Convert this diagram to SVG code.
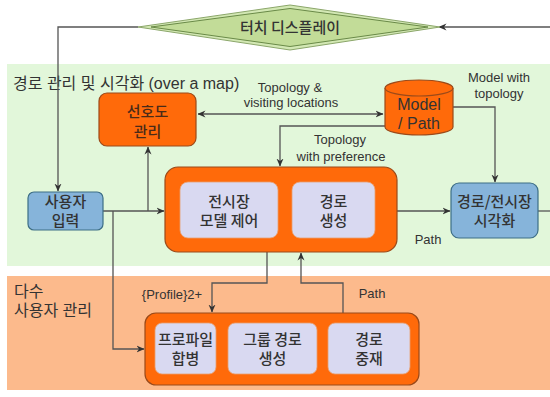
<svg xmlns="http://www.w3.org/2000/svg" width="550" height="397" viewBox="0 0 550 397">
<defs>
<marker id="ah" viewBox="0 0 8 8" refX="7.5" refY="4" markerWidth="8" markerHeight="8" markerUnits="userSpaceOnUse" orient="auto-start-reverse">
<path d="M0,0.5 L8,4 L0,7.5 L2.5,4 z" fill="#333"/>
</marker>
</defs>
<style>
.kr{font-family:"Noto Sans CJK KR","Liberation Sans",sans-serif;font-size:15px;font-weight:500;fill:#333;text-anchor:middle}
.okr{font-family:"Noto Sans CJK KR","Liberation Sans",sans-serif;font-size:15px;font-weight:500;fill:#4a2b18;text-anchor:middle}
.en{font-family:"Liberation Sans","Noto Sans CJK KR",sans-serif;font-size:13px;fill:#333;text-anchor:middle}
.sec{font-family:"Liberation Sans","Noto Sans CJK KR",sans-serif;font-size:16px;fill:#333}
.orange{fill:#ff6a0a;stroke:#9a4a1a;stroke-width:1.2}
.lav{fill:#d9d9f1;stroke:#e9a070;stroke-width:0.8}
.blue{fill:#86b4da;stroke:#3d6e86;stroke-width:1.2}
.ln{fill:none;stroke:#555;stroke-width:1.3}
</style>
<rect width="550" height="397" fill="#ffffff"/>
<rect x="7" y="64" width="543" height="202" fill="#e2f7da"/>
<rect x="7" y="276" width="543" height="114" fill="#fcba8c"/>
<text class="sec" x="13" y="89">경로 관리 및 시각화 (over a map)</text>
<text class="sec" x="14" y="297">다수</text>
<text class="sec" x="14" y="316">사용자 관리</text>
<g id="connectors">
<polyline class="ln" points="138,27 58,27 58,191" marker-end="url(#ah)"/>
<line class="ln" x1="550" y1="27" x2="439" y2="27" marker-end="url(#ah)"/>
<line class="ln" x1="538" y1="211" x2="550" y2="211"/>
<line class="ln" x1="103" y1="211" x2="164" y2="211" marker-end="url(#ah)"/>
<line class="ln" x1="148" y1="211" x2="148" y2="147" marker-end="url(#ah)"/>
<polyline class="ln" points="113,211 113,349 144,349" marker-end="url(#ah)"/>
<line class="ln" x1="198" y1="114" x2="383" y2="114" marker-start="url(#ah)" marker-end="url(#ah)"/>
<polyline class="ln" points="385,126 280,126 280,166" marker-end="url(#ah)"/>
<polyline class="ln" points="453,107 495,107 495,182" marker-end="url(#ah)"/>
<line class="ln" x1="397" y1="211" x2="450" y2="211" marker-end="url(#ah)"/>
<polyline class="ln" points="267,252 267,283 212,283 212,312" marker-end="url(#ah)"/>
<polyline class="ln" points="343,313 343,283 301,283 301,253" marker-end="url(#ah)"/>
<text class="en" x="290" y="92">Topology &amp;</text>
<text class="en" x="291" y="107">visiting locations</text>
<text class="en" x="340" y="144">Topology</text>
<text class="en" x="341" y="161">with preference</text>
<text class="en" x="499" y="82">Model with</text>
<text class="en" x="499" y="98">topology</text>
<text class="en" x="428" y="244">Path</text>
<text class="en" x="172" y="299">{Profile}2+</text>
<text class="en" x="372" y="298">Path</text>
</g>
<g id="touch-display">
<polygon points="138,27 290,5 440,27 290,50" fill="#d3e8b4" stroke="#8ba66a" stroke-width="1"/>
<polygon points="151,27 290,8.5 428,27 290,46.5" fill="#c2dc98" stroke="#6a8a48" stroke-width="1"/>
<text class="kr" x="290" y="33">터치 디스플레이</text>
</g>
<g id="preference">
<rect class="orange" x="99" y="93" width="97" height="53" rx="8"/>
<text class="okr" x="147.5" y="117">선호도</text>
<text class="okr" x="147.5" y="137">관리</text>
</g>
<g id="model-path">
<path d="M385,88 L385,127 A34,8 0 0 0 453,127 L453,88" class="orange"/>
<ellipse cx="419" cy="88" rx="34" ry="8" class="orange"/>
<text class="kr" x="419" y="110" style="font-family:'Liberation Sans',sans-serif;font-size:16px">Model</text>
<text class="kr" x="419" y="129" style="font-family:'Liberation Sans',sans-serif;font-size:16px">/ Path</text>
</g>
<g id="user-input">
<rect class="blue" x="28" y="192" width="75" height="38" rx="6"/>
<text class="kr" x="65.5" y="207">사용자</text>
<text class="kr" x="65.5" y="226">입력</text>
</g>
<g id="visualize">
<rect class="blue" x="451" y="183" width="87" height="55" rx="8"/>
<text class="kr" x="494.5" y="207">경로/전시장</text>
<text class="kr" x="494.5" y="226">시각화</text>
</g>
<g id="main">
<rect class="orange" x="165" y="167" width="232" height="85" rx="13"/>
<g id="model-control">
<rect class="lav" x="180" y="182" width="98" height="56" rx="8"/>
<text class="kr" x="229" y="207">전시장</text>
<text class="kr" x="229" y="226">모델 제어</text>
</g>
<g id="path-gen">
<rect class="lav" x="292" y="182" width="83" height="56" rx="8"/>
<text class="kr" x="333.5" y="207">경로</text>
<text class="kr" x="333.5" y="226">생성</text>
</g>
</g>
<g id="multi">
<rect class="orange" x="145" y="313" width="274" height="72" rx="11"/>
<g id="profile-merge">
<rect class="lav" x="155" y="323" width="61" height="51" rx="7"/>
<text class="kr" x="185.5" y="345">프로파일</text>
<text class="kr" x="185.5" y="364">합병</text>
</g>
<g id="group-path">
<rect class="lav" x="228" y="323" width="89" height="51" rx="7"/>
<text class="kr" x="272.5" y="345">그룹 경로</text>
<text class="kr" x="272.5" y="364">생성</text>
</g>
<g id="path-mediate">
<rect class="lav" x="328" y="323" width="82" height="51" rx="7"/>
<text class="kr" x="369" y="345">경로</text>
<text class="kr" x="369" y="364">중재</text>
</g>
</g>
</svg>
